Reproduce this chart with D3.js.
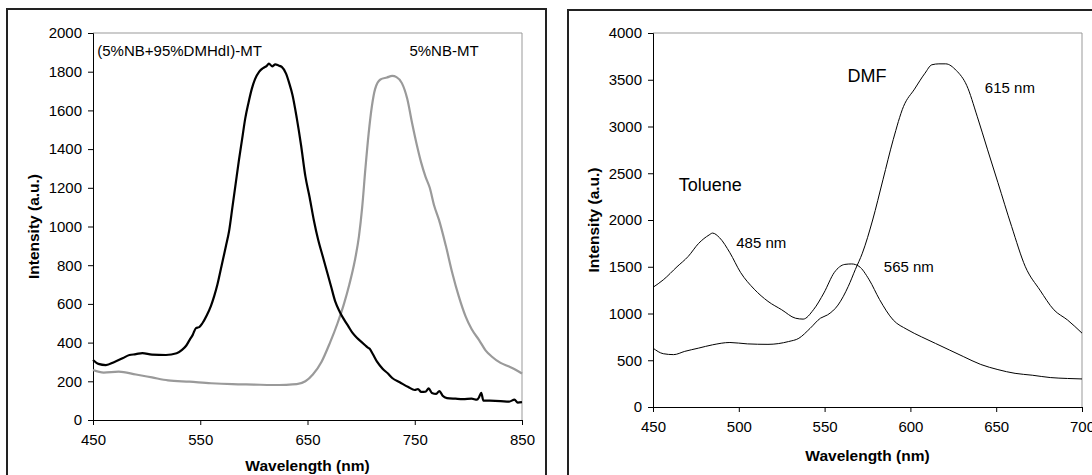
<!DOCTYPE html>
<html>
<head>
<meta charset="utf-8">
<script src="https://cdn.jsdelivr.net/npm/d3@7"></script>
<style>
  body { margin: 0; background: #fff; }
  svg { display: block; font-family: "Liberation Sans", Arial, sans-serif; }
  .tick text { font-size: 15px; fill: #000; }
  .title { font-size: 15.5px; font-weight: bold; }
</style>
</head>
<body>
<div id="container"></div>
<script>
// left panel: wavelength / intensity pairs
var leftWl   = [450,455,462,470,478,484,490,496,505,518,528,533,537,540,543,546,549,552,556,560,563,566,570,574,577,580,583,586,589,592,595,598,601,605,609,612,614,617,620,623,626,630,633,636,640,644,648,652,656,660,664,668,672,676,680,684,688,692,696,700,704,706,708,711,715,720,725,729,736,744,750,753,756,760,763,766,770,773,776,780,788,795,803,808,810,812,814,820,830,838,843,846,850];
var blackInt = [310,290,284,300,320,336,340,346,338,336,345,362,385,413,440,475,480,500,540,590,640,700,800,900,980,1100,1220,1340,1450,1560,1640,1710,1760,1800,1820,1830,1842,1828,1838,1832,1825,1790,1740,1680,1560,1420,1260,1150,1030,930,850,770,690,610,560,520,485,450,425,405,385,375,368,340,300,265,240,217,195,170,155,160,145,146,163,140,135,150,125,113,110,108,110,105,118,140,100,100,98,95,105,90,92];

var grayWl   = [450,460,474,490,505,520,540,560,580,600,617,630,640,648,655,663,671,678,684,689,694,698,701,704,707,710,713,718,724,729,733,738,743,747.5,752,756,760,764,768,772.6,779,785,791,797.5,803,810,816,822,830,838,844,850];
var grayInt  = [258,245,250,235,220,205,198,190,185,183,181,182,185,200,235,300,400,500,600,700,820,950,1100,1300,1480,1620,1710,1760,1770,1778,1772,1741,1660,1535,1420,1330,1258,1200,1110,1034,900,760,640,534,470,413,360,327,295,276,260,240];

// right panel: two solvents
var rightWl   = [450,456,464,470.5,476.6,482.7,484.7,488.8,494.8,501,509,517,525,533,537.5,543.5,549.6,555.7,561.8,565.8,570,576,582,590,598,606.5,614.6,622.7,630.8,641,651,661,671,681.5,691.6,700];
var tolueneInt = [1280,1360,1500,1610,1750,1840,1860,1810,1650,1440,1260,1130,1040,950,940,1040,1220,1440,1525,1530,1505,1360,1150,930,830,750,680,610,540,455,400,360,340,315,305,300];

var dmfWl  = [450,456,462,468.5,476.6,484.7,494.8,505,517,529,535,541.5,547.6,551.7,557.8,563.8,567.9,572,578,584,590,596,602.4,608.5,612.5,616.6,620.6,626.7,632.8,638.9,645,651,659,667,675.5,683.6,691.6,700];
var dmfInt = [630,570,560,595,630,665,690,675,670,700,735,840,950,985,1090,1290,1470,1645,2000,2430,2860,3215,3400,3570,3660,3670,3670,3600,3440,3110,2750,2400,1930,1500,1250,1040,930,790];

var leftXTicks  = [450,550,650,750,850];
var leftYTicks  = [0,200,400,600,800,1000,1200,1400,1600,1800,2000];
var rightXTicks = [450,500,550,600,650,700];
var rightYTicks = [0,500,1000,1500,2000,2500,3000,3500,4000];

var width = 1092, height = 475;

var svg = d3.select("#container").append("svg")
  .attr("width", width)
  .attr("height", height);

svg.append("rect").attr("width", width).attr("height", height).attr("fill", "#fff");

// outer panel frames
svg.append("rect").attr("x", 7).attr("y", 9).attr("width", 539).attr("height", 480)
  .attr("fill", "none").attr("stroke", "#222").attr("stroke-width", 2);
svg.append("rect").attr("x", 568).attr("y", 10).attr("width", 540).attr("height", 480)
  .attr("fill", "none").attr("stroke", "#222").attr("stroke-width", 2);

function zip(xs, ys) {
  return xs.map(function(v, i) { return [v, ys[i]]; });
}

function panel(opt) {
  var x = d3.scaleLinear().domain(opt.xDomain).range([opt.x0, opt.x1]);
  var y = d3.scaleLinear().domain(opt.yDomain).range([opt.y1, opt.y0]);
  var g = svg.append("g");

  // grey top/right of plot area
  g.append("path")
    .attr("d", "M" + opt.x0 + "," + opt.y0 + "H" + opt.x1 + "V" + opt.y1)
    .attr("fill", "none").attr("stroke", "#999").attr("stroke-width", 1);

  g.append("g")
    .attr("transform", "translate(0," + opt.y1 + ")")
    .call(d3.axisBottom(x).tickValues(opt.xTicks).tickSize(5).tickPadding(9).tickFormat(d3.format("d")))
    .call(function(a) { a.select(".domain").attr("stroke", "#000"); });

  g.append("g")
    .attr("transform", "translate(" + opt.x0 + ",0)")
    .call(d3.axisLeft(y).tickValues(opt.yTicks).tickSize(5).tickPadding(6).tickFormat(d3.format("d")))
    .call(function(a) { a.select(".domain").attr("stroke", "#000"); });

  g.append("text").attr("class", "title")
    .attr("x", (opt.x0 + opt.x1) / 2).attr("y", opt.xTitleY)
    .attr("text-anchor", "middle").text("Wavelength (nm)");

  g.append("text").attr("class", "title")
    .attr("transform", "translate(" + opt.yTitleX + "," + ((opt.y0 + opt.y1) / 2) + ") rotate(-90)")
    .attr("text-anchor", "middle").text("Intensity (a.u.)");

  var line = d3.line()
    .x(function(d) { return x(d[0]); })
    .y(function(d) { return y(d[1]); })
    .curve(d3.curveMonotoneX);

  opt.series.forEach(function(s) {
    g.append("path")
      .datum(s.data)
      .attr("d", line)
      .attr("fill", "none")
      .attr("stroke", s.color)
      .attr("stroke-width", s.width)
      .attr("stroke-linejoin", "round");
  });

  opt.labels.forEach(function(l) {
    g.append("text")
      .attr("x", x(l.wl)).attr("y", y(l.val))
      .style("font-size", l.size + "px")
      .text(l.text);
  });
}

panel({
  x0: 93, x1: 522, y0: 33, y1: 420,
  xDomain: [450, 850], yDomain: [0, 2000],
  xTicks: leftXTicks, yTicks: leftYTicks,
  xTitleY: 471, yTitleX: 39,
  series: [
    {data: zip(grayWl, grayInt), color: "#9a9a9a", width: 2.2},
    {data: zip(leftWl, blackInt), color: "#000", width: 2.2}
  ],
  labels: [
    {text: "(5%NB+95%DMHdI)-MT", wl: 454, val: 1880, size: 15},
    {text: "5%NB-MT", wl: 745, val: 1880, size: 15}
  ]
});

panel({
  x0: 653, x1: 1082, y0: 33, y1: 407,
  xDomain: [450, 700], yDomain: [0, 4000],
  xTicks: rightXTicks, yTicks: rightYTicks,
  xTitleY: 461, yTitleX: 599,
  series: [
    {data: zip(rightWl, tolueneInt), color: "#000", width: 1},
    {data: zip(dmfWl, dmfInt), color: "#000", width: 1}
  ],
  labels: [
    {text: "DMF", wl: 563.4, val: 3480, size: 18},
    {text: "615 nm", wl: 643.4, val: 3360, size: 15},
    {text: "Toluene", wl: 465, val: 2310, size: 18},
    {text: "485 nm", wl: 498.5, val: 1700, size: 15},
    {text: "565 nm", wl: 584.5, val: 1440, size: 15}
  ]
});
</script>
</body>
</html>
